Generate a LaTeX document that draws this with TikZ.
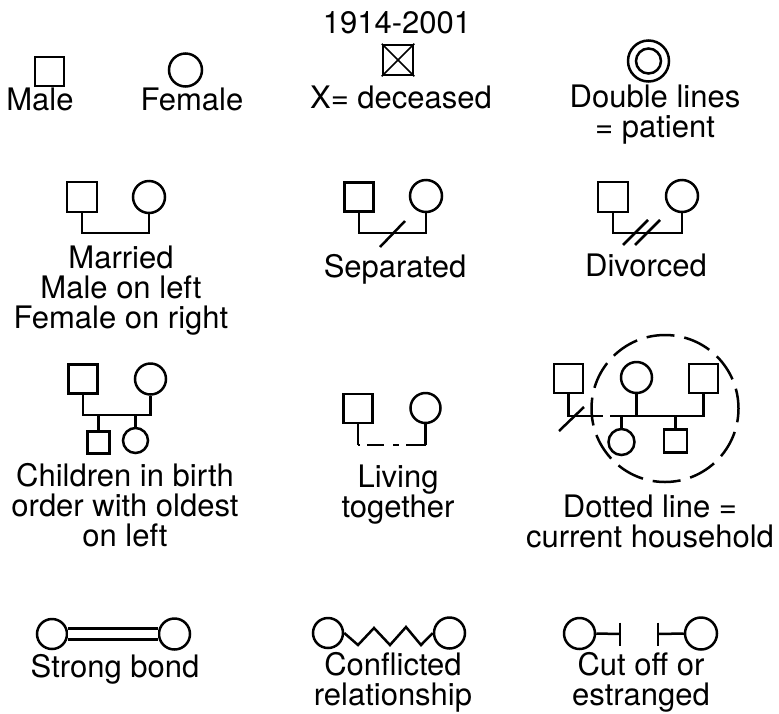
\documentclass[tikz,border=0pt]{standalone}
\usepackage{fontspec}
\setmainfont{TeX Gyre Heros}
\begin{document}
\begin{tikzpicture}[x=1pt,y=-1pt,line width=2.5pt,
  male/.style={draw,rectangle,minimum size=#1,inner sep=0pt},
  male/.default=29,
  female/.style={draw,circle,minimum size=#1,inner sep=0pt},
  female/.default=31,
  lbl/.style={align=center,anchor=base,inner sep=0pt,font=\fontsize{31}{30}\selectfont},
  thin/.style={line width=1.5pt}]
\path[fill=white,use as bounding box] (0,0) rectangle (779,713);

% ---- Row 1
\node[male] (m1) at (49.5,71.5) {};
\node[lbl] (t1) at (40,110) {Male};
\node[female=33] (f1) at (185.5,70) {};
\node[lbl] (t2) at (192,110) {Female};
\node[lbl] (yr) at (397,33) {1914-2001};
\node[male=30] (d1) at (398,60) {};
\draw[thin] (d1.north west) -- (d1.south east) (d1.north east) -- (d1.south west);
\node[lbl] (t3) at (401,108) {X= deceased};
\node[female=41] (pat) at (648.5,61) {};
\draw (pat.center) circle (12.5);
\node[lbl] (t4) at (655,137) {Double lines\\= patient};

% ---- Row 2
\node[male=30] (ma) at (82,197) {};
\node[female=32] (mf) at (149,197) {};
\draw (ma.south) |- (mf.south |- 0,233) -- (mf.south);
\node[lbl] (t5) at (121,328) {Married\\Male on left\\Female on right};

\node[male=29] (sm) at (359,197) {};
\node[female=32] (sf) at (426,196) {};
\draw (sm.south) |- (sf.south |- 0,233) -- (sf.south);
\coordinate (s1) at (380,247); \coordinate (s2) at (405,221);
\draw (s1) -- (s2);
\node[lbl] (t6) at (395,277) {Separated};

\node[male=30] (dm) at (613,197) {};
\node[female=32] (df) at (682,196) {};
\draw (dm.south) |- (df.south |- 0,233) -- (df.south);
\coordinate (v1) at (623,245); \coordinate (v2) at (648,220);
\coordinate (v3) at (635,245); \coordinate (v4) at (660,220);
\draw (v1) -- (v2) (v3) -- (v4);
\node[lbl] (t7) at (646,276) {Divorced};

% ---- Row 3
\node[male] (cm) at (83,379) {};
\node[female] (cf) at (150.5,379) {};
\draw (cm.south) |- (cf.south |- 0,415) -- (cf.south);
\node[male=22] (c1) at (98.5,442.5) {};
\node[female=25] (c2) at (135.5,440.5) {};
\draw (c1.north) -- (c1.north |- 0,415);
\draw (c2.north) -- (c2.north |- 0,415);
\node[lbl] (t8) at (125,546) {Children in birth\\order with oldest\\on left};

\node[male] (lm) at (358,408.5) {};
\node[female=30] (lf) at (425.5,408) {};
\coordinate (l1) at (lm.south |- 0,445);
\coordinate (l2) at (lf.south |- 0,445);
\draw (lm.south) -- (l1);
\draw (lf.south) -- (l2);
\draw[dash pattern=on 2pt off 7pt on 17pt off 9pt on 6pt off 7pt on 40pt] (l1) -- (l2);
\node[lbl] (t9) at (398,517) {Living\\together};

\node[male] (hm1) at (568.5,378.5) {};
\node[female] (hf) at (636.5,377.5) {};
\node[male] (hm2) at (703.5,378.5) {};
\coordinate (h1) at (603,416);
\coordinate (h2) at (610,416);
\draw (hm1.south) |- (h1);
\draw (h2) -| (hm2.south);
\draw (hf.south) -- (hf.south |- 0,416);
\node[female=26] (hc1) at (621.5,442) {};
\node[male=23] (hc2) at (675.5,441) {};
\draw (hc1.north) -- (hc1.north |- 0,416);
\draw (hc2.north) -- (hc2.north |- 0,416);
\coordinate (x1) at (559,431); \coordinate (x2) at (584,407);
\draw (x1) -- (x2);
\node[circle,minimum size=147,inner sep=0pt,draw,dash pattern=on 28pt off 10pt,dash phase=8pt] (hh) at (665,408.5) {};
\node[lbl] (t10) at (650,547) {Dotted line =\\current household};

% ---- Row 4
\node[female=30] (sb1) at (52,634) {};
\node[female] (sb2) at (174.5,634) {};
\draw[double,double distance=8.5pt] (sb1) -- (sb2);
\node[lbl] (t11) at (115,677) {Strong bond};

\node[female=30] (cc1) at (328,633) {};
\node[female] (cc2) at (449.5,633) {};
\draw (cc1.east) -- (358,645) -- (374,628) -- (390,645) -- (406,627) -- (421,645) -- (cc2.west);
\node[lbl] (t12) at (393,705.5) {Conflicted\\relationship};

\node[female] (co1) at (579.5,633.5) {};
\node[female=32] (co2) at (701,633.5) {};
\coordinate (b1) at (620,634); \coordinate (b1t) at (620,622.5); \coordinate (b1b) at (620,645.5);
\coordinate (b2) at (658,634); \coordinate (b2t) at (658,622.5); \coordinate (b2b) at (658,645.5);
\draw (co1.east) -- (b1);
\draw (b1t) -- (b1b);
\draw (b2t) -- (b2b);
\draw (b2) -- (co2.west);
\node[lbl] (t13) at (641,705.5) {Cut off or\\estranged};
\end{tikzpicture}
\end{document}
